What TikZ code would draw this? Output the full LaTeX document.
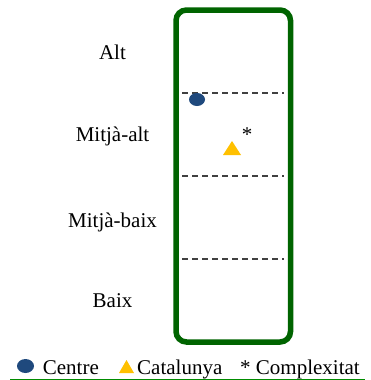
\documentclass[tikz,border=0pt]{standalone}
\usepackage{fontspec}
\setmainfont{Liberation Serif}
\usetikzlibrary{shapes.geometric}
\definecolor{boxgreen}{RGB}{0,100,0}
\definecolor{linegreen}{RGB}{0,140,0}
\definecolor{centreblue}{RGB}{31,73,125}
\definecolor{catyellow}{RGB}{255,192,0}
\definecolor{dashgray}{RGB}{64,64,64}
\tikzset{
  lbl/.style={anchor=base, inner sep=0pt, font=\fontsize{21}{25}\selectfont},
  lgd/.style={anchor=base west, inner sep=0pt, font=\fontsize{21}{25}\selectfont},
  sep/.style={draw=dashgray, line width=1.3pt, dash pattern=on 5.5pt off 4.5pt},
  frame/.style={draw=boxgreen, line width=5.5pt, rounded corners=10.5pt},
}
\begin{document}
\begin{tikzpicture}[x=1pt, y=-1pt]
\useasboundingbox (0,0) rectangle (370,380);
% frame
\draw[frame] (176,10) rectangle (290.5,342);
% separators
\coordinate (s1a) at (182,93);  \coordinate (s1b) at (284,93);
\coordinate (s2a) at (182,176); \coordinate (s2b) at (284,176);
\coordinate (s3a) at (182,259); \coordinate (s3b) at (284,259);
\draw[sep] (s1a) -- (s1b);
\draw[sep] (s2a) -- (s2b);
\draw[sep] (s3a) -- (s3b);
% labels
\node[lbl] (alt) at (112.5,59) {Alt};
\node[lbl] (ma) at (112.5,141) {Mitjà-alt};
\node[lbl] (mb) at (112.5,227) {Mitjà-baix};
\node[lbl] (baix) at (112.5,307) {Baix};
% markers
\fill[centreblue] (197,99.5) ellipse [x radius=8, y radius=6.5];
\fill[catyellow] (223,155) -- (241,155) -- (232,141) -- cycle;
\node[lbl] (ast) at (247,141) {*};
% legend
\fill[centreblue] (25.5,366) ellipse [x radius=8.5, y radius=7];
\node[lgd] (lc) at (42.7,374) {Centre};
\fill[catyellow] (119,373) -- (134,373) -- (126.5,360) -- cycle;
\node[lgd] (lcat) at (137,374) {Catalunya};
\node[lgd] (lcx) at (240,374) {* Complexitat};
% bottom rule
\coordinate (r1) at (10,379.2); \coordinate (r2) at (365,379.2);
\draw[linegreen, line width=1.2pt] (r1) -- (r2);
\end{tikzpicture}
\end{document}
